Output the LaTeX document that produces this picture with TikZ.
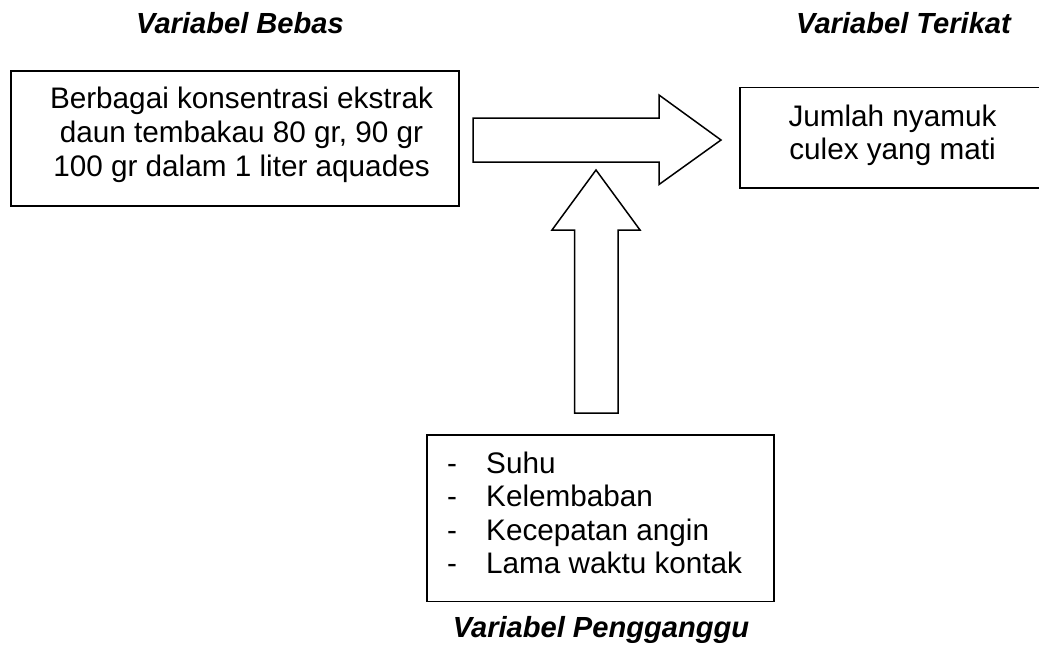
\documentclass[tikz,border=0pt]{standalone}
\usepackage{fontspec}
\setmainfont{Liberation Sans}
\begin{document}
\begin{tikzpicture}[x=1pt,y=-1pt,
  box/.style={draw, line width=1.5pt, inner sep=0pt},
  blockarrow/.style={draw, line width=1.5pt, fill=white, line join=miter},
  txt/.style={font=\fontsize{29.7}{34}\selectfont, anchor=base, inner sep=0pt},
  head/.style={font=\fontsize{29.1}{34}\selectfont\bfseries\itshape, anchor=base, inner sep=0pt}]
\useasboundingbox (0,0) rectangle (1039,648);
\fill[white] (0,0) rectangle (1039,648);
% headings
\node[head] (hbebas) at (240,33) {Variabel Bebas};
\node[head] (hterikat) at (903.5,33) {Variabel Terikat};
\node[head] (hpeng) at (601,637) {Variabel Pengganggu};
% boxes
\node[box, minimum width=448pt, minimum height=135pt] (bebas) at (235,138.5) {};
\node[box, minimum width=305pt, minimum height=100.5pt] (terikat) at (892.5,137.75) {};
\node[box, minimum width=347pt, minimum height=166.5pt] (peng) at (600.5,518.25) {};
% box texts
\node[txt] (b1) at (241.5,108) {Berbagai konsentrasi ekstrak};
\node[txt] (b2) at (241.5,142) {daun tembakau 80 gr, 90 gr};
\node[txt] (b3) at (241.5,176) {100 gr dalam 1 liter aquades};
\node[txt] (t1) at (892.5,126) {Jumlah nyamuk};
\node[txt] (t2) at (892.5,159) {culex yang mati};
\foreach \y/\s [count=\i] in {473/Suhu,506.5/Kelembaban,540/Kecepatan angin,573.5/Lama waktu kontak}{
  \node[txt, anchor=base] (d\i) at (452,\y) {-};
  \node[txt, anchor=base west] (p\i) at (486,\y) {\s};
}
% block arrows
\draw[blockarrow] (473,118) -- (659,118) -- (659,95) -- (721,140) -- (659,184.5) -- (659,162) -- (473,162) -- cycle;
\draw[blockarrow] (574.5,413) -- (574.5,230) -- (552,230) -- (596,170) -- (640,230) -- (618,230) -- (618,413) -- cycle;
\end{tikzpicture}
\end{document}
